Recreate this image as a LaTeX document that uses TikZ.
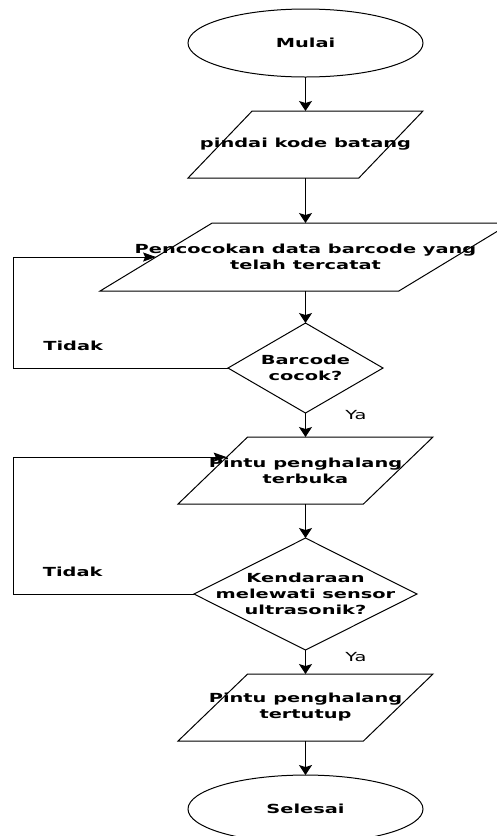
\documentclass[tikz,border=0pt]{standalone}
\usepackage{fontspec}
\newfontfamily\flowfont[FakeStretch=1.55]{DejaVu Sans}
\usetikzlibrary{positioning, arrows.meta, shapes.geometric, calc}

\newcommand{\flowtxt}{\flowfont\bfseries\fontsize{12.5}{16}\selectfont}
\newcommand{\notetxt}{\flowfont\fontsize{12.5}{16}\selectfont}

\begin{document}
\begin{tikzpicture}[
  x=1pt, y=-1pt,
  term/.style={ellipse, draw, line width=1pt, minimum width=235pt, minimum height=68pt, inner sep=0pt, outer sep=0pt, font=\flowtxt},
  io/.style={trapezium, draw, line width=1pt, trapezium left angle=59, trapezium right angle=121, trapezium stretches=true, minimum height=67pt, inner sep=1pt, outer sep=0pt},
  cek/.style={diamond, draw, line width=1pt, inner sep=1pt, outer sep=0pt},
  txt/.style={font=\flowtxt, align=center},
  ya/.style={font=\notetxt},
  arr/.style={-{Stealth[length=10pt, width=13pt, inset=2pt]}, line width=1.1pt},
  arrh/.style={-{Stealth[length=13pt, width=9pt, inset=2pt]}, line width=1pt}
]
\useasboundingbox (0,0) rectangle (497,836);
\clip (0,0) rectangle (497,836);

\node[term] (mulai) at (305.5,43) {Mulai};
\node[io, minimum width=235pt, below=34pt of mulai, label={[txt]center:pindai kode batang}] (pindai) {};
\node[io, minimum width=411pt, minimum height=68pt, below=45pt of pindai, label={[txt]center:{Pencocokan data barcode yang\\telah tercatat}}] (cocok) {};
\node[cek, minimum width=155pt, minimum height=90pt, below=32pt of cocok, label={[txt]center:{Barcode\\cocok?}}] (barcode) {};
\node[io, minimum width=255pt, below=24pt of barcode, label={[txt]center:{Pintu penghalang\\terbuka}}] (buka) {};
\node[cek, minimum width=223pt, minimum height=112pt, below=34pt of buka, label={[txt]center:{Kendaraan\\melewati sensor\\ultrasonik?}}] (sensor) {};
\node[io, minimum width=255pt, below=24pt of sensor, label={[txt]center:{Pintu penghalang\\tertutup}}] (tutup) {};
\node[term, below=34pt of tutup] (selesai) {Selesai};

\draw[arr] (mulai) -- (pindai);
\draw[arr] (pindai) -- (cocok);
\draw[arr] (cocok) -- (barcode);
\draw[arr] (barcode) -- node[ya, pos=0.08, anchor=west, xshift=36pt]{Ya} (buka);
\draw[arr] (buka) -- (sensor);
\draw[arr] (sensor) -- node[ya, pos=0.29, anchor=west, xshift=36pt]{Ya} (tutup);
\draw[arr] (tutup) -- (selesai);

% loops back when the answer is no
\draw[arrh] (barcode.west) -- node[txt, pos=0.72, yshift=22pt]{Tidak} ++(-215,0) |- (cocok.left side);
\draw[arrh] (sensor.west) -- node[txt, pos=0.67, yshift=22pt]{Tidak} ++(-181,0) |- ($(buka.bottom left corner)!0.7!(buka.top left corner)$);
\end{tikzpicture}
\end{document}
